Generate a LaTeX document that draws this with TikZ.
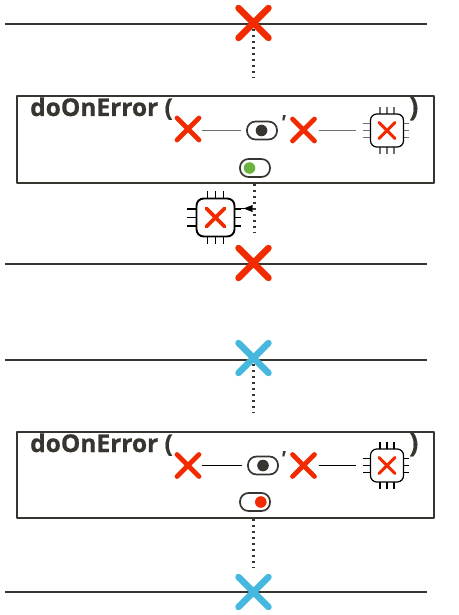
\documentclass[tikz,border=0pt]{standalone}
\usepackage{fontspec}
\setmainfont{Open Sans}[BoldFeatures={FakeBold=0.6}]
\usetikzlibrary{arrows.meta}
\definecolor{ink}{HTML}{38342F}
\definecolor{errred}{HTML}{F22A00}
\definecolor{okblue}{HTML}{46B8DE}
\definecolor{okgreen}{HTML}{6DB33F}
\definecolor{softgray}{HTML}{6E6E6E}
\tikzset{
  x=1pt,y=-1pt,
  rail/.style={draw=ink,line width=2pt},
  frame/.style={draw=ink,line width=1.9pt,fill=white,line join=round},
  dotline/.style={draw=ink,line width=2.6pt,dash pattern=on 2.2pt off 3.8pt},
  title/.style={font=\bfseries\fontsize{24.5}{28}\selectfont,text=ink,inner sep=0pt,anchor=base west},
  tick/.style={font=\bfseries\itshape\fontsize{21}{21}\selectfont,text=ink,inner sep=0pt},
  anchorpt/.style={inner sep=0pt,minimum size=#1,draw=none},
  pics/xmark/.style 2 args={code={
    \node[anchorpt=2*#2pt] (-c) at (0,0) {};
    \draw[#1,line width=#2*0.43pt,line cap=round] (-#2,-#2)--(#2,#2) (-#2,#2)--(#2,-#2);
  }},
  pics/switch/.style 2 args={code={
    \node[anchorpt=30pt] (-c) at (0,0) {};
    \draw[ink,line width=1.7pt,fill=white,rounded corners=8.5pt] (-15,-9) rectangle (15,9);
    \fill[#1] (#2,0) circle[radius=5.8];
  }},
  pics/chip/.style n args={3}{code={
    \node[anchorpt=2*#1pt] (-c) at (0,0) {};
    \draw[#2,line width=#3pt]
      foreach \k in {-1,0,1}{
        (\k*#1*0.42,-#1)--(\k*#1*0.42,-#1*1.42)
        (\k*#1*0.42,#1)--(\k*#1*0.42,#1*1.42)
        (-#1,\k*#1*0.44)--(-#1*1.48,\k*#1*0.44)
        (#1,\k*#1*0.44)--(#1*1.36,\k*#1*0.44)
      };
    \draw[black,line width=#3pt,fill=white,rounded corners=#1*0.38pt] (-#1,-#1) rectangle (#1,#1);
    \draw[errred,line width=#1*0.19pt,line cap=round]
      (-#1*0.48,-#1*0.48)--(#1*0.48,#1*0.48) (-#1*0.48,#1*0.48)--(#1*0.48,-#1*0.48);
  }},
}
\begin{document}
\begin{tikzpicture}
\useasboundingbox (0,0) rectangle (458,615);
% ---- upper panel
\coordinate (r1l) at (5,24); \coordinate (r1r) at (427,24);
\draw[rail] (r1l)--(r1r);
\pic (a) at (253.5,23) {xmark={errred}{15}};
\coordinate (a1) at (253.5,78);
\draw[dotline] (a-c.south) ++(0,-9) -- (a1);
\node[frame,minimum width=417pt,minimum height=87pt,inner sep=0pt] (boxa) at (225.5,139.5) {};
\node[title] (ta) at (30,116) {doOnError (};
\node[title,font=\bfseries\fontsize{27}{30}\selectfont] (ca) at (409,116) {)};
\pic (ax1) at (188,129) {xmark={errred}{11}};
\pic (at1) at (262,130.5) {switch={ink}{-0.5}};
\node[tick] (apr) at (283,123) {\textquotesingle};
\pic (ax2) at (303.5,130) {xmark={errred}{11}};
\pic (ach) at (387,130.5) {chip={16.5}{softgray}{1.2}};
\draw[softgray,line width=1.5pt,shorten <=3pt,shorten >=6pt] (ax1-c.east |- at1-c) -- (at1-c.west);
\draw[softgray,line width=1.5pt,shorten <=4pt,shorten >=14pt] (ax2-c.east |- ach-c) -- (ach-c.west);
\pic (ag) at (255,168) {switch={okgreen}{-5.5}};
% below upper panel
\coordinate (a2) at (254.5,233);
\draw[dotline] (254.5,184) -- (a2);
\pic (bch) at (215.5,217.5) {chip={19}{black}{1.9}};
\coordinate (tip) at (252.5,208.5);
\draw[black,line width=1.7pt] (bch-c.east |- tip) -- (tip);
\fill[black] (tip) -- ++(-9,0) -- ++(9,-3.5) -- cycle;
\fill[black] (tip) -- ++(-9,0) -- ++(9,3.5) -- cycle;
\draw[rail] (5,264)--(427,264);
\pic (b) at (253.5,263) {xmark={errred}{15}};
% ---- lower panel
\draw[rail] (5,360)--(427,360);
\pic (c) at (253.5,358) {xmark={okblue}{15}};
\coordinate (c1) at (253.5,413);
\draw[dotline] (c-c.south) ++(0,-9) -- (c1);
\node[frame,minimum width=417pt,minimum height=86pt,inner sep=0pt] (boxb) at (225.5,475) {};
\node[title] (tb) at (30,452) {doOnError (};
\node[title,font=\bfseries\fontsize{27}{30}\selectfont] (cb) at (409,452) {)};
\pic (bx1) at (188,465.5) {xmark={errred}{11}};
\pic (bt1) at (263,465.5) {switch={ink}{0}};
\node[tick] (bpr) at (283,459) {\textquotesingle};
\pic (bx2) at (303.5,465.5) {xmark={errred}{11}};
\pic (bch2) at (387,465.5) {chip={16.5}{black}{1.2}};
\draw[black,line width=1.2pt,shorten <=3pt,shorten >=6pt] (bx1-c.east |- bt1-c) -- (bt1-c.west);
\draw[black,line width=1.2pt,shorten <=4pt,shorten >=14pt] (bx2-c.east |- bch2-c) -- (bch2-c.west);
\pic (br) at (255,502) {switch={errred}{5.8}};
\coordinate (c2) at (253.5,568);
\draw[dotline] (253.5,519) -- (c2);
\draw[rail] (5,591.5)--(427,591.5);
\pic (d) at (253.5,592) {xmark={okblue}{15}};
\end{tikzpicture}
\end{document}
